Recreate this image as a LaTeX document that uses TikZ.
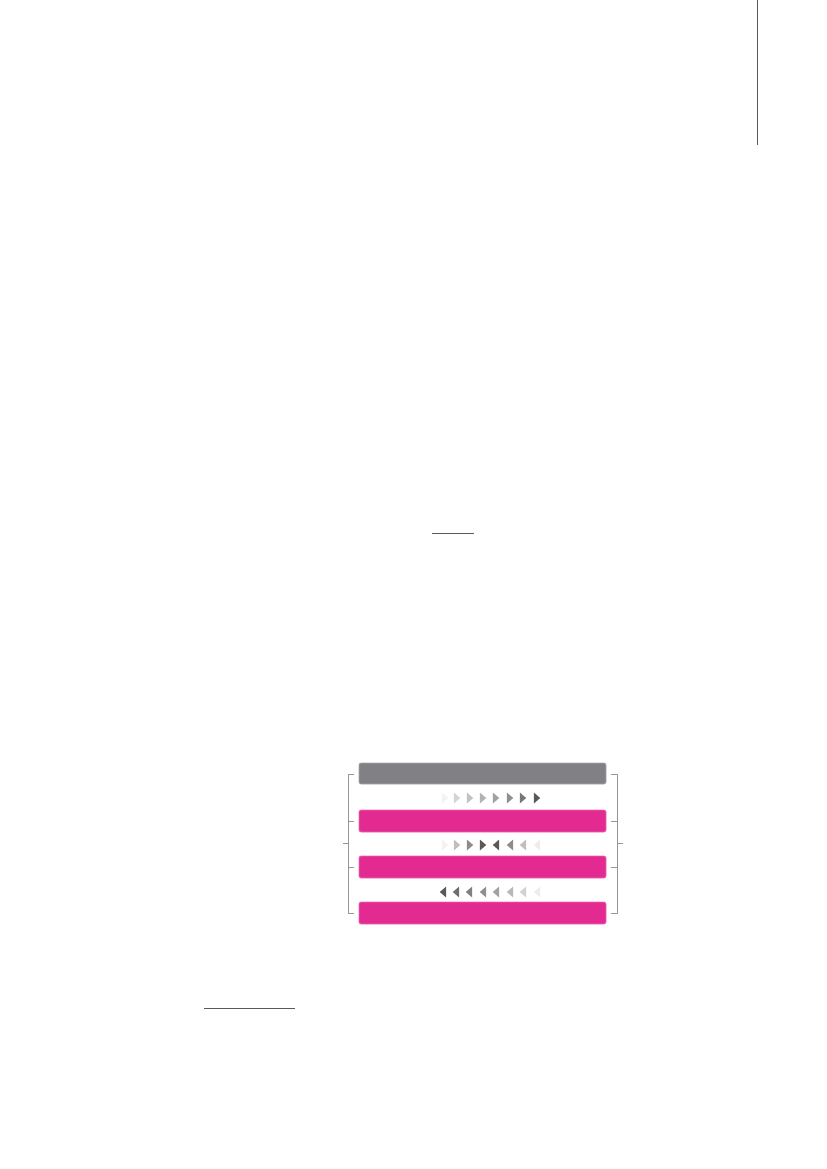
\documentclass[tikz,border=0pt]{standalone}
\definecolor{barpink}{RGB}{226,42,145}
\definecolor{bargray}{RGB}{128,128,133}
\definecolor{brk}{RGB}{150,150,150}
\tikzset{
  x=1bp, y=-1bp,
  bar/.style={rounded corners=2bp, draw=#1!70!white, line width=0.6bp, fill=#1},
  brack/.style={draw=brk, line width=0.9bp},
  rule/.style={draw=black!65, line width=1bp},
}
\newcommand{\tri}[4]{% x, y, dir(1 right, -1 left), color
  \fill[#4] ({#1-3.2*#3},{#2-5.5}) -- ({#1+3.2*#3},{#2}) -- ({#1-3.2*#3},{#2+5.5}) -- cycle;}
\begin{document}
\begin{tikzpicture}
\useasboundingbox (0,0) rectangle (827,1169);
% top-right vertical rule
\coordinate (vt) at (757,0);
\coordinate (vb) at (757,145);
\draw[rule, line width=0.8bp] (vt) -- (vb);
% underline
\coordinate (ua) at (432,533.5);
\coordinate (ub) at (474,533.5);
\draw[rule] (ua) -- (ub);
% footnote rule
\coordinate (fa) at (204,1008);
\coordinate (fb) at (295,1008);
\draw[rule] (fa) -- (fb);
% bars
\path[bar=bargray] (359,763) rectangle (606,784);
\node[inner sep=0] (b0) at (482.5,773.5) {};
\path[bar=barpink] (359,810) rectangle (606,832);
\node[inner sep=0] (b1) at (482.5,821) {};
\path[bar=barpink] (359,856) rectangle (606,878);
\node[inner sep=0] (b2) at (482.5,867) {};
\path[bar=barpink] (359,902) rectangle (606,924);
\node[inner sep=0] (b3) at (482.5,913) {};
% left bracket
\draw[brack] (354,774) -- (348,774) -- (348,913) -- (354,913);
\draw[brack] (348,821) -- (354,821);
\draw[brack] (348,867) -- (354,867);
\draw[brack] (343,843.5) -- (348,843.5);
% right bracket
\draw[brack] (611,774) -- (617,774) -- (617,913) -- (611,913);
\draw[brack] (617,821) -- (611,821);
\draw[brack] (617,867) -- (611,867);
\draw[brack] (617,843.5) -- (623,843.5);
% arrow row 1
\tri{445}{798}{1}{black!5}
\tri{457}{798}{1}{black!17}
\tri{470}{798}{1}{black!24}
\tri{483}{798}{1}{black!30}
\tri{496}{798}{1}{black!37}
\tri{510}{798}{1}{black!44}
\tri{523}{798}{1}{black!53}
\tri{537}{798}{1}{black!65}
% arrow row 2
\tri{445}{845}{1}{black!5}
\tri{457}{845}{1}{black!25}
\tri{470}{845}{1}{black!45}
\tri{483}{845}{1}{black!65}
\tri{496}{845}{-1}{black!65}
\tri{510}{845}{-1}{black!45}
\tri{523}{845}{-1}{black!25}
\tri{537}{845}{-1}{black!7}
% arrow row 3
\tri{443}{892}{-1}{black!65}
\tri{456}{892}{-1}{black!57}
\tri{469}{892}{-1}{black!50}
\tri{483}{892}{-1}{black!44}
\tri{496}{892}{-1}{black!37}
\tri{510}{892}{-1}{black!28}
\tri{523}{892}{-1}{black!18}
\tri{537}{892}{-1}{black!7}
\end{tikzpicture}
\end{document}
